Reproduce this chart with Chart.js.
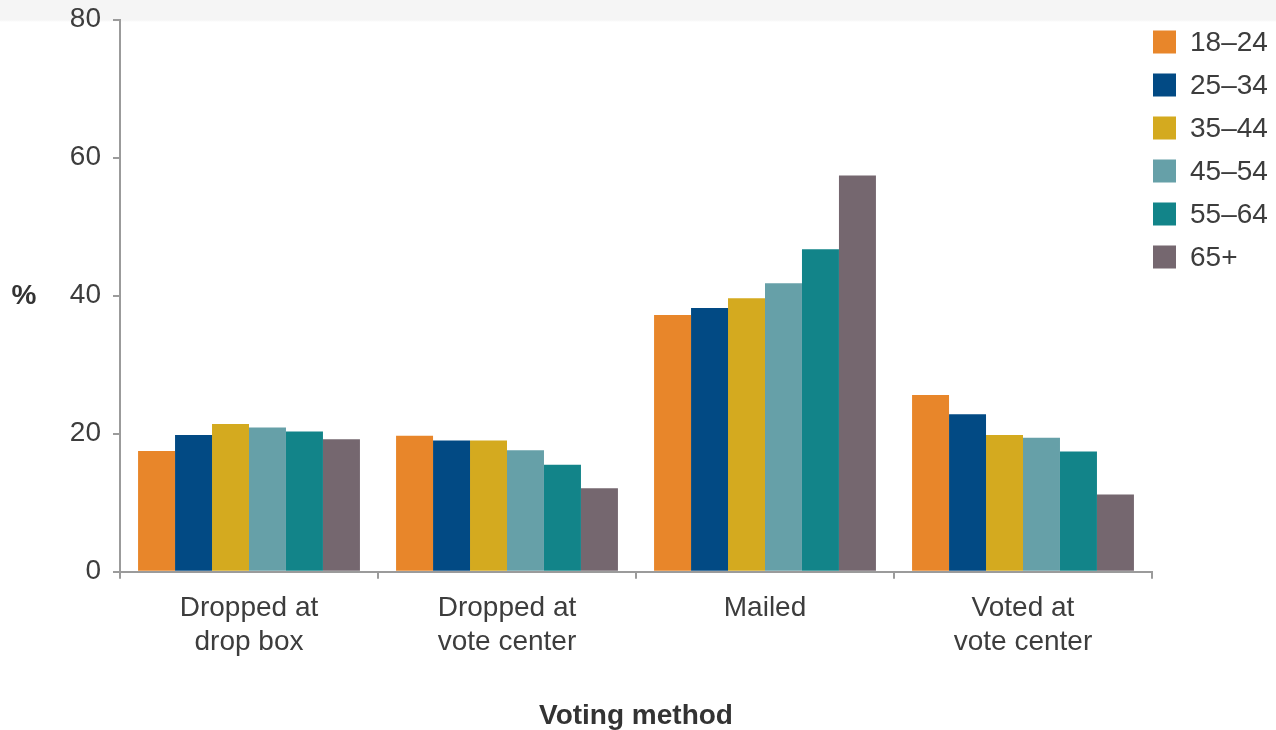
<!DOCTYPE html>
<html>
<head>
<meta charset="utf-8">
<script src="https://cdn.jsdelivr.net/npm/chart.js@4.4.1/dist/chart.umd.min.js"></script>
<style>
  html, body { margin: 0; padding: 0; }
  body { background: linear-gradient(#f5f5f5 0, #f5f5f5 20px, #ffffff 22px); width: 1276px; height: 730px; overflow: hidden; }
  canvas { display: block; }
</style>
</head>
<body>
<canvas id="bar-chart" width="1276" height="730"></canvas>
<script>

// Datos: metodo de voto por grupo de edad (%)
const methods = [["Dropped at", "drop box"], ["Dropped at", "vote center"], "Mailed", ["Voted at", "vote center"]];
const ageGroups = ["18–24", "25–34", "35–44", "45–54", "55–64", "65+"];
const colors = ["#e8862a", "#024a84", "#d4aa1f", "#66a0a8", "#128489", "#75676f"];

const age18 = [17.5, 19.7, 37.2, 25.6];
const age25 = [19.8, 19.0, 38.2, 22.8];
const age35 = [21.4, 19.0, 39.6, 19.8];
const age45 = [20.9, 17.6, 41.8, 19.4];
const age55 = [20.3, 15.5, 46.7, 17.4];
const age65 = [19.2, 12.1, 57.4, 11.2];

const yTicks = [0, 20, 40, 60, 80];

const series = [age18, age25, age35, age45, age55, age65];

const axisColor = '#9b9b9b';
const textColor = '#3d3d3d';
const font = 'Liberation Sans, Arial, sans-serif';

// leyenda vertical a la derecha y el "%" del eje, dibujados a mano
const extras = {
    id: 'extras',
    afterDraw(chart) {
        const ctx = chart.ctx;
        const area = chart.chartArea;
        ctx.save();
        ctx.textBaseline = 'middle';
        ctx.font = '28px ' + font;
        chart.data.datasets.forEach((ds, i) => {
            const y = 42 + i * 43;
            ctx.fillStyle = ds.backgroundColor;
            ctx.fillRect(area.right + 1, y - 11.5, 23, 23);
            ctx.fillStyle = textColor;
            ctx.textAlign = 'left';
            ctx.fillText(ds.label, area.right + 38, y + 1);
        });
        ctx.font = 'bold 28px ' + font;
        ctx.textAlign = 'center';
        ctx.fillStyle = '#333';
        ctx.fillText('%', 24, (area.top + area.bottom) / 2 + 1);
        ctx.restore();
    }
};

new Chart(document.getElementById("bar-chart"), {
    type: 'bar',
    data: {
        labels: methods,
        datasets: series.map((values, i) => ({
            label: ageGroups[i],
            backgroundColor: colors[i],
            data: values,
            categoryPercentage: 0.86,
            barPercentage: 1.0
        }))
    },
    options: {
        responsive: false,
        animation: false,
        devicePixelRatio: 1,
        layout: {
            padding: { top: 19.5, right: 124, bottom: 0, left: 0 }
        },
        plugins: {
            legend: { display: false },
            tooltip: { enabled: false }
        },
        scales: {
            x: {
                afterFit: scale => { scale.height = 158.3; },
                border: { display: true, color: axisColor, width: 2 },
                grid: { drawOnChartArea: false, drawTicks: true, tickLength: 7, color: axisColor, lineWidth: 2 },
                ticks: {
                    color: textColor,
                    font: { family: font, size: 28, lineHeight: 1.2 },
                    padding: 13,
                    maxRotation: 0
                },
                title: {
                    display: true,
                    text: 'Voting method',
                    color: '#333',
                    font: { family: font, size: 28, weight: 'bold' },
                    padding: { top: 0, bottom: -3 }
                }
            },
            y: {
                min: 0,
                max: 80,
                afterFit: scale => {
                    scale.width = 120;
                    scale.paddingTop = 0;
                    scale.paddingBottom = 0;
                },
                afterBuildTicks: scale => { scale.ticks = yTicks.map(v => ({ value: v })); },
                border: { display: true, color: axisColor, width: 2 },
                grid: { drawOnChartArea: false, drawTicks: true, tickLength: 7, color: axisColor, lineWidth: 2 },
                ticks: {
                    color: textColor,
                    font: { family: font, size: 28 },
                    padding: 12
                }
            }
        }
    },
    plugins: [extras]
});

</script>
</body>
</html>
